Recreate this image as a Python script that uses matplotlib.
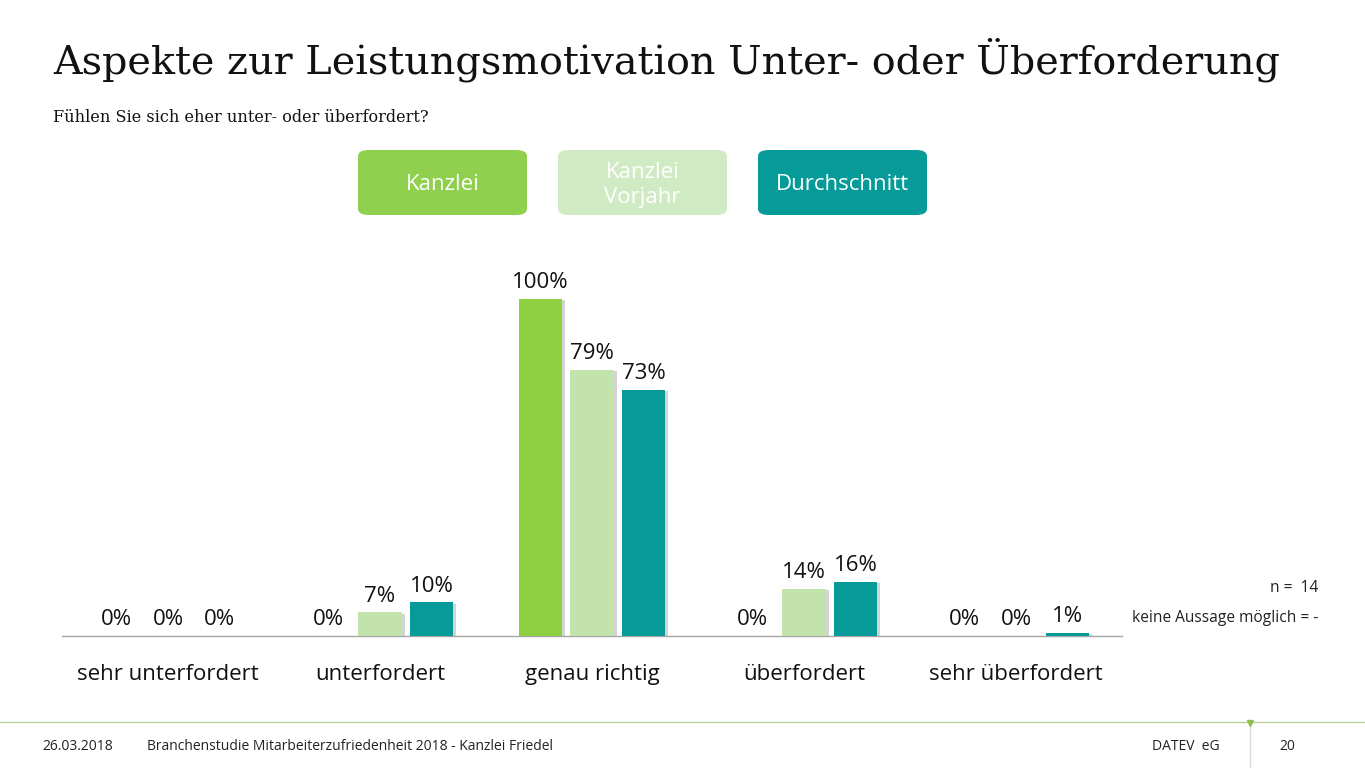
import matplotlib.pyplot as plt
import matplotlib.patheffects as pe
from matplotlib.patches import FancyBboxPatch
import numpy as np

# Daten
kategorien = ['sehr unterfordert', 'unterfordert', 'genau richtig', 'überfordert', 'sehr überfordert']
serien = ['Kanzlei', 'Kanzlei\nVorjahr', 'Durchschnitt']
kanzlei = [0, 0, 100, 0, 0]
vorjahr = [0, 7, 79, 14, 0]
durchschnitt = [0, 10, 73, 16, 1]
farben = ['#8FD043', '#C3E3AC', '#069B99']
legenden_farben = ['#8FD04F', '#D0EBC3', '#069B99']

plt.rcParams['font.family'] = ['Open Sans', 'DejaVu Sans']

W, H = 1365, 768
fig = plt.figure(figsize=(W / 100, H / 100), dpi=100)

def fx(px):
    return px / W

def fy(py):
    return 1 - py / H

# Titel
fig.text(fx(53), fy(60), 'Aspekte zur Leistungsmotivation Unter- oder Überforderung',
         fontsize=28.6, family=['DejaVu Serif'], va='center', ha='left', color='#111111')
fig.text(fx(53), fy(118), 'Fühlen Sie sich eher unter- oder überfordert?',
         fontsize=11.6, family=['DejaVu Serif'], va='center', ha='left', color='#111111')

# Legende als Kästchen
box_x = [358, 558, 758]
for x0, name, c in zip(box_x, serien, legenden_farben):
    box = FancyBboxPatch((fx(x0), fy(215)), fx(169), 65 / H,
                         boxstyle='round,pad=0,rounding_size=0.008',
                         transform=fig.transFigure, facecolor=c, edgecolor='none')
    fig.patches.append(box)
    fig.text(fx(x0 + 84.5), fy(185), name, color='white', fontsize=16,
             ha='center', va='center', linespacing=1.3)

# Diagramm
ax = fig.add_axes([fx(62), fy(636), fx(1060), (636 - 265) / H])
x = np.arange(len(kategorien))
breite = 0.205
abstand = 0.243
schatten = [pe.SimplePatchShadow(offset=(2, -1), shadow_rgbFace='#AAAAAA', alpha=0.5), pe.Normal()]
for i, (werte, c) in enumerate(zip([kanzlei, vorjahr, durchschnitt], farben)):
    pos = x + (i - 1) * abstand
    bars = ax.bar(pos, werte, width=breite, color=c, zorder=3)
    for b in bars:
        b.set_path_effects(schatten)
    for p, v in zip(pos, werte):
        ax.annotate(f'{v}%', (p, v), xytext=(0, 4), textcoords='offset points',
                    ha='center', va='bottom', fontsize=16, color='#111111')

ax.set_xlim(-0.5, 4.5)
ax.set_ylim(0, 110)
for s in ['top', 'right', 'left']:
    ax.spines[s].set_visible(False)
ax.spines['bottom'].set_color('#A6A6A6')
ax.spines['bottom'].set_linewidth(1)
ax.set_yticks([])
ax.set_xticks(x)
ax.set_xticklabels(kategorien, fontsize=16, color='#111111')
ax.tick_params(axis='x', length=0, pad=20)

# Hinweise
fig.text(fx(1318), fy(588), 'n =  14', fontsize=11.2, ha='right', va='center', color='#222222')
fig.text(fx(1318), fy(618), 'keine Aussage möglich = -', fontsize=11.2, ha='right', va='center', color='#222222')

# Fußzeile
fig.add_artist(plt.Line2D([0, 1], [fy(722), fy(722)], transform=fig.transFigure, color='#B5D39A', lw=1))
fig.add_artist(plt.Line2D([fx(1250), fx(1250)], [fy(722), 0], transform=fig.transFigure, color='#DDDDDD', lw=1))
fig.add_artist(plt.Line2D([fx(1250)], [fy(723)], transform=fig.transFigure, marker='v',
                          markersize=4, color='#8FC04F', lw=0))
fuss = dict(fontsize=10, va='center', color='#222222', family=['Liberation Sans Narrow', 'Open Sans'])
fig.text(fx(42), fy(746), '26.03.2018', ha='left', **fuss)
fig.text(fx(147), fy(746), 'Branchenstudie Mitarbeiterzufriedenheit 2018 - Kanzlei Friedel', ha='left', **fuss)
fig.text(fx(1152), fy(746), 'DATEV  eG', ha='left', **fuss)
fig.text(fx(1279), fy(746), '20', ha='left', **fuss)

fig.savefig('out.png', dpi=100)
